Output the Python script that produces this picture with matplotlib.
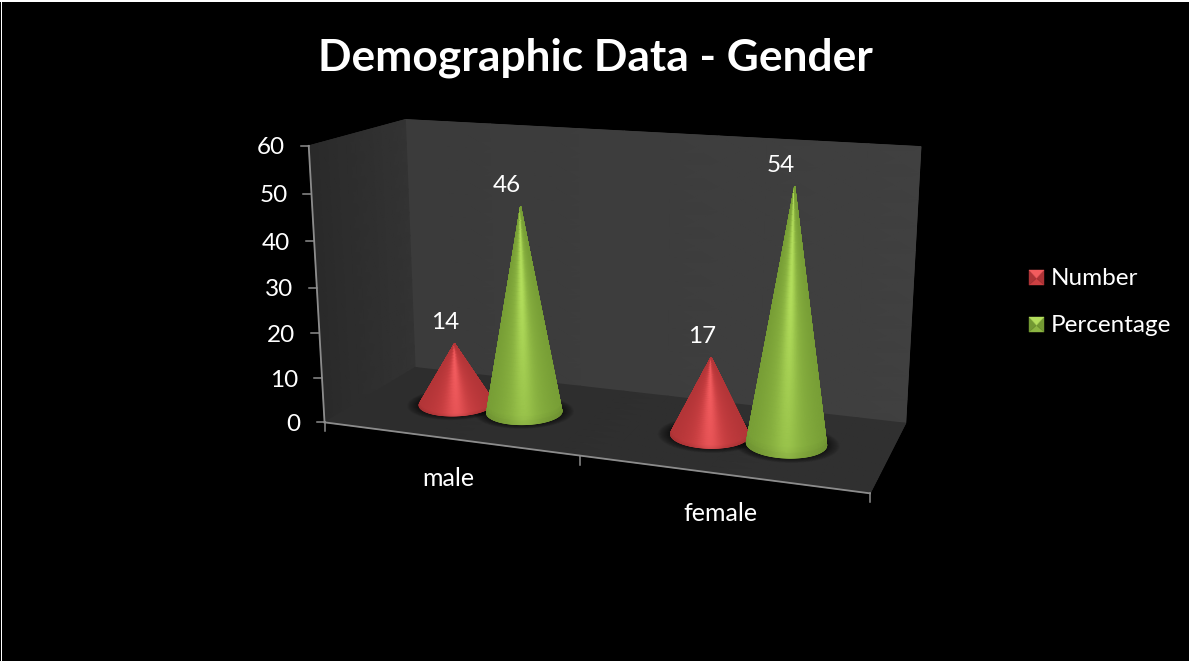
import numpy as np
import matplotlib
matplotlib.use('Agg')
import matplotlib.pyplot as plt
from matplotlib.patches import Polygon

plt.rcParams['font.family'] = ['Lato', 'DejaVu Sans']

categories = ['male', 'female']
number = [14, 17]
percentage = [46, 54]
y_ticks = [0, 10, 20, 30, 40, 50, 60]

RED = {'edge': (0.68, 0.20, 0.21), 'mid': (0.80, 0.25, 0.26), 'light': (0.95, 0.36, 0.37), 'foot': 0.7}
GREEN = {'edge': (0.45, 0.60, 0.20), 'mid': (0.55, 0.71, 0.26), 'light': (0.70, 0.87, 0.36), 'foot': 0.3}

# box corners on screen: (category pos, depth, value) -> pixel
box_world = np.array([(0, 0, 0), (1, 0, 0), (2, 0, 0), (0, 1, 0), (2, 1, 0),
                      (0, 0, 60), (0, 1, 60), (2, 1, 60)], float)
box_px = np.array([(325, 423), (579, 456), (870, 493), (415, 367), (906, 423),
                   (309, 145), (405, 120), (921, 147)], float)


def fit_camera(world, px):
    rows = []
    for (x, d, v), (u, w) in zip(world, px):
        rows.append([x, d, v, 1, 0, 0, 0, 0, -u * x, -u * d, -u * v, -u])
        rows.append([0, 0, 0, 0, x, d, v, 1, -w * x, -w * d, -w * v, -w])
    return np.linalg.svd(np.array(rows))[2][-1].reshape(3, 4)


CAM = fit_camera(box_world, box_px)


def project(x, d, v):
    x, d, v = np.broadcast_arrays(np.asarray(x, float), np.asarray(d, float), np.asarray(v, float))
    pts = np.stack([x, d, v, np.ones_like(x)], axis=-1) @ CAM.T
    return pts[..., 0] / pts[..., 2], pts[..., 1] / pts[..., 2]


def shaded_face(ax, x, d, v, col0, col1, flat):
    # wall or floor: grey gradient along the two mesh directions
    X, Y = project(x, d, v)
    weight = np.linspace(0, 1, X.shape[1])[None, :, None]
    rgb = np.ones(X.shape + (3,)) * (np.array(col0) * (1 - weight) + np.array(col1) * weight)[..., :1]
    outline = np.column_stack([np.r_[X[0], X[-1][::-1]], np.r_[Y[0], Y[-1][::-1]]])
    ax.add_patch(Polygon(outline, closed=True, fc=flat, ec=flat, lw=0.5, zorder=1))
    ax.pcolormesh(X, Y, rgb, shading='gouraud', zorder=1.1)


def base_circle(xc, dc, rx, rd, n=240):
    t = np.linspace(0, 2 * np.pi, n, endpoint=False)
    return project(xc + rx * np.cos(t), dc + rd * np.sin(t), 0 * t)


def draw_shadow(ax, xc, dc, rx, rd, z):
    # soft dark halo on the floor
    for k in np.linspace(1.32, 1.0, 14):
        bx, by = base_circle(xc, dc, rx * k, rd * k)
        ax.add_patch(Polygon(np.column_stack([bx, by]), closed=True, fc='black', ec='none',
                             alpha=0.05, zorder=z))


def draw_cone(ax, xc, dc, value, rx, rd, pal, z):
    bx, by = base_circle(xc, dc, rx, rd)
    ax_, ay_ = project(xc, dc, value)
    apex = np.array([float(ax_), float(ay_)])

    # visible front arc runs between the two silhouette tangents
    ang = np.arctan2(bx - apex[0], by - apex[1])
    i_l, i_r = np.argmin(ang), np.argmax(ang)
    n = len(bx)
    arc1 = (i_l + np.arange((i_r - i_l) % n + 1)) % n
    arc2 = (i_l - np.arange((i_l - i_r) % n + 1)) % n
    arc = arc1 if by[arc1].mean() > by[arc2].mean() else arc2
    fx, fy = bx[arc], by[arc]

    outline = np.column_stack([np.r_[fx, apex[0]], np.r_[fy, apex[1]]])
    ax.add_patch(Polygon(outline, closed=True, fc=pal['edge'], ec=pal['edge'], lw=0.6, zorder=z))

    # h runs from the base (0) up to the apex (1)
    w = (fx - fx.min()) / (fx.max() - fx.min()) * 2 - 1
    h = np.linspace(0, 1, 50)
    X = apex[0] + (fx[None, :] - apex[0]) * (1 - h[:, None])
    Y = apex[1] + (fy[None, :] - apex[1]) * (1 - h[:, None])

    edge, mid, light = (np.array(pal[k]) for k in ('edge', 'mid', 'light'))
    across = np.exp(-(w[None, :] / 0.8) ** 2)[..., None]
    peak = np.exp(-(w[None, :] / 0.3) ** 2)[..., None]
    # highlight is strongest on the upper part of the cone, fading toward the base
    foot = pal['foot']
    strength = (foot + (1 - foot) * np.clip(h / 0.6, 0, 1))[:, None, None]
    rgb = edge + (mid - edge) * across + (light - mid) * peak * strength
    # a touch darker toward the rim of the base
    rim = np.clip(h / 0.04, 0, 1)[:, None, None]
    rgb = rgb * (0.92 + 0.08 * rim)
    ax.pcolormesh(X, Y, np.clip(rgb, 0, 1), shading='gouraud', zorder=z + 0.1)
    return apex


def legend_key(ax, x, y, s, pal):
    # small bevelled square with a lighter top facet
    c = (x + s / 2, y + s * 0.55)
    tl, tr, br, bl = (x, y), (x + s, y), (x + s, y + s), (x, y + s)
    sides = [((bl, br, c), pal['mid']), ((tr, br, c), pal['edge']), ((bl, tl, c), pal['edge']),
             ((tl, tr, c), pal['light'])]
    for tri, col in sides:
        ax.add_patch(Polygon(tri, closed=True, fc=col, ec=col, lw=0.3, zorder=5))


fig = plt.figure(figsize=(11.89, 6.61), dpi=100, facecolor='black')
ax = fig.add_axes([0, 0, 1, 1])
ax.set_xlim(0, 1189)
ax.set_ylim(661, 0)
ax.axis('off')

# thin white edge along the top and left
ax.plot([0.5, 0.5], [0, 661], color='white', lw=0.72, zorder=10)
ax.plot([0, 1189], [1, 1], color='white', lw=1.44, zorder=10)

ax.text(595, 58, 'Demographic Data - Gender', color='white', fontsize=31.9, fontweight='bold',
        ha='center', va='center')

# walls and floor
g1, g2 = np.meshgrid(np.linspace(0, 1, 12), np.linspace(0, 1, 12), indexing='ij')
shaded_face(ax, g2 * 2, 1 + 0 * g1, g1 * 60, [0.23], [0.25], (0.24, 0.24, 0.24))
shaded_face(ax, 0 * g1, g2, g1 * 60, [0.165], [0.20], (0.18, 0.18, 0.18))
shaded_face(ax, g2 * 2, g1, 0 * g1, [0.175], [0.19], (0.18, 0.18, 0.18))

# axis lines and ticks
axis_col = '#8c8c8c'
px0, py0 = project(0, 0, 0)
px1, py1 = project(0, 0, 60)
px2, py2 = project(2, 0, 0)
ax.plot([px0, px1], [py0, py1], color=axis_col, lw=1.3, zorder=3)
ax.plot([px0, px2], [py0, py2], color=axis_col, lw=1.3, zorder=3)
for t in y_ticks:
    tx, ty = project(0, 0, t)
    ax.plot([tx - 8, tx], [ty, ty], color=axis_col, lw=1.1, zorder=3)
    ax.text(tx - 24, ty + 2, str(t), color='white', fontsize=17.5, ha='right', va='center')
for k in range(len(categories) + 1):
    tx, ty = project(k, 0, 0)
    ax.plot([tx, tx], [ty, ty + 9], color=axis_col, lw=1.1, zorder=3)
for k, name in enumerate(categories):
    tx, ty = project(k + 0.5, 0, 0)
    ax.text(tx, ty + 40, name, color='white', fontsize=18, ha='center', va='center')

# cones, back to front along each category
offset, depth = 0.14, 0.5
rx, rd = 0.14, 0.2
for k in range(len(categories)):
    for j, (vals, pal, dx) in enumerate([(number, RED, -9), (percentage, GREEN, -14)]):
        xc = k + 0.5 + (2 * j - 1) * offset
        z = 4 + k + j * 0.4
        draw_shadow(ax, xc, depth, rx, rd, 2)
        apex = draw_cone(ax, xc, depth, vals[k], rx, rd, pal, z)
        ax.text(apex[0] + dx, apex[1] - 21, str(vals[k]), color='white', fontsize=17.5,
                ha='center', va='center', zorder=8)

# legend
for y, label, pal in [(270, 'Number', RED), (317, 'Percentage', GREEN)]:
    legend_key(ax, 1029, y, 15, pal)
    ax.text(1051, y + 8.5, label, color='white', fontsize=17.5, ha='left', va='center')

fig.savefig('out.png', dpi=100, facecolor='black')
plt.close(fig)
